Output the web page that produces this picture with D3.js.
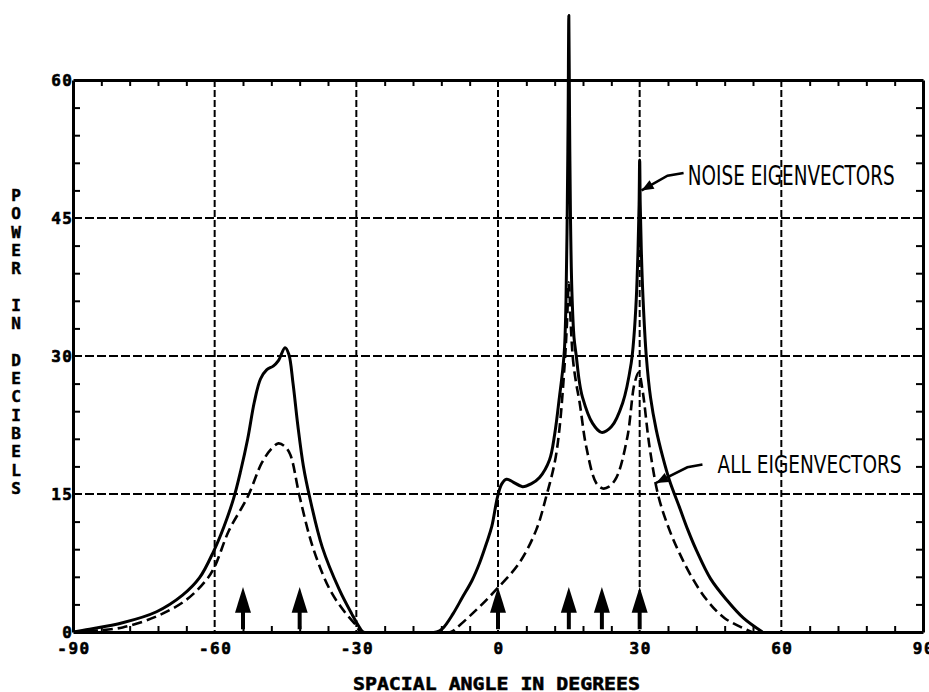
<!doctype HTML>
<html>
<head>
    <style>
        body { margin: 0; background: #fff; }
        text { font-family: "DejaVu Sans Mono", monospace; font-weight: bold; fill: #000; }
        .note { font-family: "DejaVu Sans Condensed", "Liberation Sans Narrow", "DejaVu Sans", sans-serif; font-weight: normal; }
    </style>
    <script src="https://d3js.org/d3.v7.min.js"></script>
</head>
<body>
<script>
    // tick labels
    var xTicks = [-90, -60, -30, 0, 30, 60, 90];
    var yTicks = [0, 15, 30, 45, 60];
    // true source directions (arrows)
    var sources = [-54, -42, 0, 15, 22, 30];

    // solid curve: noise eigenvectors, [angle, dB]
    var noiseEig = [
        [-90, 0], [-86.5, 0.3], [-79.5, 1], [-72.3, 2.2], [-66.8, 4], [-63.2, 5.9], [-60.2, 8.8],
        [-58, 11.5], [-56, 14.5], [-54.5, 17.5], [-53, 21], [-51.6, 25], [-50.3, 27.5],
        [-49, 28.5], [-47.6, 28.9], [-46.5, 29.5], [-45.1, 30.9], [-44.3, 30.2], [-43.4, 27],
        [-42.4, 22.5], [-41.2, 18], [-39.9, 14.7], [-37.2, 9.2], [-33.6, 4.6], [-31, 2],
        [-29.2, 0.4], [-28.5, 0], [-13, 0], [-11.7, 0.4], [-9.5, 2], [-7.5, 3.8], [-5.5, 5.6],
        [-3.9, 7.5], [-2.4, 9.7], [-1.3, 11.5], [-0.1, 14.7], [0.8, 16.1], [1.8, 16.6], [3.2, 16.3],
        [5.2, 15.8], [7, 16.1], [8.8, 16.8], [10.9, 18.7], [12, 21.5], [13, 25.5], [13.7, 28.5],
        [14.1, 31], [14.4, 36], [14.65, 45], [14.85, 56], [15, 67], [15.15, 56], [15.35, 45],
        [15.65, 37], [16.1, 32], [16.6, 29.9], [17.2, 27.3], [17.9, 25.5], [20, 22.7], [21.9, 21.7],
        [24, 22.3], [26.4, 24.9], [28.2, 29.2], [28.8, 32.2], [29.3, 36.4], [29.65, 41.5],
        [29.88, 46.5], [30, 51.3], [30.12, 46.5], [30.35, 41.5], [30.7, 36.4], [31.4, 30],
        [32.3, 25.5], [33.5, 22], [34.9, 19], [36.3, 16.5], [38.4, 13.6], [40.2, 11.1], [42, 8.9],
        [45, 5.8], [48.4, 3.5], [52, 1.5], [56, 0]
    ];

    // dashed curve: all eigenvectors, [angle, dB]
    var allEig = [
        [-90, 0], [-85, 0.15], [-79.5, 0.5], [-72.3, 1.7], [-66, 3.5], [-61.7, 5.7], [-60, 7.1],
        [-57, 11], [-53, 14.7], [-50, 18.4], [-48, 19.9], [-46.5, 20.5], [-45.2, 20.2], [-44, 19.3],
        [-42, 14.7], [-39.2, 9.2], [-35.6, 4.6], [-32.5, 2.2], [-30, 0.7], [-29, 0], [-10, 0],
        [-8.9, 0.4], [-4.6, 2.4], [-0.4, 4.6], [4.5, 7.5], [8.1, 11.1], [10.2, 14.7], [12, 18.4],
        [13, 22], [14.1, 29], [14.6, 33.5], [15, 38], [15.4, 33.5], [15.9, 29.5], [16.5, 27.2],
        [17.3, 24.9], [18.7, 20.1], [20.8, 16.2], [22.2, 15.6], [23.5, 15.8], [25.1, 16.8],
        [27.4, 21.2], [28.9, 27], [29.8, 28.2], [30.6, 26.3], [32.1, 20.1], [34, 14.7],
        [36.3, 11.1], [38.4, 8.6], [41, 6], [44.2, 3.5], [48, 1.5], [53.7, 0]
    ];

    var canvasWidth = 929;
    var canvasHeight = 692;

    var svg = d3.select("body").append("svg")
        .attr("width", canvasWidth)
        .attr("height", canvasHeight);

    var x = d3.scaleLinear().domain([-90, 90]).range([73, 923]);
    var y = d3.scaleLinear().domain([0, 60]).range([632, 80]);

    // keep curves above the zero line
    svg.append("clipPath").attr("id", "above0")
        .append("rect")
        .attr("x", x(-90)).attr("y", 0)
        .attr("width", x(90) - x(-90)).attr("height", y(0));

    // dashed grid
    svg.selectAll(".vgrid")
        .data(xTicks.slice(1, -1))
        .enter().append("line")
        .attr("x1", d => x(d)).attr("x2", d => x(d))
        .attr("y1", y(60)).attr("y2", y(0))
        .attr("stroke", "#000").attr("stroke-width", 2)
        .attr("stroke-dasharray", "7,3");

    svg.selectAll(".hgrid")
        .data(yTicks.slice(1, -1))
        .enter().append("line")
        .attr("x1", x(-90)).attr("x2", x(90))
        .attr("y1", d => y(d)).attr("y2", d => y(d))
        .attr("stroke", "#000").attr("stroke-width", 2)
        .attr("stroke-dasharray", "9,3");

    // minor ticks on all four sides, pointing inward
    var minorX = d3.range(-84, 90, 6).filter(d => d % 30 !== 0);
    var minorY = d3.range(3, 60, 3).filter(d => d % 15 !== 0);

    function styleAxis(g) {
        g.select(".domain").attr("stroke-width", 3);
        g.selectAll(".tick line").attr("stroke-width", 2);
    }

    svg.append("g").attr("transform", "translate(0," + y(0) + ")")
        .call(d3.axisBottom(x).tickValues(minorX).tickSizeInner(-6).tickSizeOuter(0).tickFormat(""))
        .call(styleAxis);
    svg.append("g").attr("transform", "translate(0," + y(60) + ")")
        .call(d3.axisTop(x).tickValues(minorX).tickSizeInner(-6).tickSizeOuter(0).tickFormat(""))
        .call(styleAxis);
    svg.append("g").attr("transform", "translate(" + x(-90) + ",0)")
        .call(d3.axisLeft(y).tickValues(minorY).tickSizeInner(-7).tickSizeOuter(0).tickFormat(""))
        .call(styleAxis);
    svg.append("g").attr("transform", "translate(" + x(90) + ",0)")
        .call(d3.axisRight(y).tickValues(minorY).tickSizeInner(-7).tickSizeOuter(0).tickFormat(""))
        .call(styleAxis);

    // tick labels
    svg.selectAll(".xlab")
        .data(xTicks)
        .enter().append("text")
        .attr("x", d => x(d) + 1)
        .attr("y", 654)
        .attr("text-anchor", "middle")
        .attr("font-size", "16px")
        .attr("letter-spacing", "1.5px")
        .attr("stroke", "#000").attr("stroke-width", 0.6)
        .text(d => d);

    svg.selectAll(".ylab")
        .data(yTicks)
        .enter().append("text")
        .attr("x", 73.5)
        .attr("y", d => y(d) + 6)
        .attr("text-anchor", "end")
        .attr("font-size", "16px")
        .attr("letter-spacing", "1.5px")
        .attr("stroke", "#000").attr("stroke-width", 0.6)
        .text(d => d);

    // curves
    var line = d3.line()
        .x(d => x(d[0]))
        .y(d => y(d[1]))
        .curve(d3.curveCatmullRom.alpha(0.5));

    svg.append("path")
        .datum(allEig)
        .attr("d", line)
        .attr("clip-path", "url(#above0)")
        .attr("fill", "none")
        .attr("stroke", "#000")
        .attr("stroke-width", 2.6)
        .attr("stroke-dasharray", "10,5");

    svg.append("path")
        .datum(noiseEig)
        .attr("d", line)
        .attr("clip-path", "url(#above0)")
        .attr("fill", "none")
        .attr("stroke", "#000")
        .attr("stroke-width", 3)
        .attr("stroke-linejoin", "round");

    // source arrows
    var arrows = svg.selectAll(".src")
        .data(sources)
        .enter().append("g");
    arrows.append("line")
        .attr("x1", d => x(d)).attr("x2", d => x(d))
        .attr("y1", y(0.3)).attr("y2", y(2.6))
        .attr("stroke", "#000").attr("stroke-width", 4);
    arrows.append("path")
        .attr("d", d => "M" + x(d) + "," + y(4.9) +
            "L" + (x(d) + 8) + "," + y(2.1) +
            "L" + (x(d) - 8) + "," + y(2.1) + "Z")
        .attr("fill", "#000");

    // annotations
    function leader(pts) {
        var p = pts.map(d => [x(d[0]), y(d[1])]);
        svg.append("path")
            .attr("d", d3.line()(p))
            .attr("fill", "none").attr("stroke", "#000").attr("stroke-width", 2.5);
        var tip = p[p.length - 1], from = p[p.length - 2];
        var a = Math.atan2(tip[1] - from[1], tip[0] - from[0]);
        var len = 12, w = 5;
        var bx = tip[0] - len * Math.cos(a), by = tip[1] - len * Math.sin(a);
        svg.append("path")
            .attr("d", "M" + tip[0] + "," + tip[1] +
                "L" + (bx + w * Math.sin(a)) + "," + (by - w * Math.cos(a)) +
                "L" + (bx - w * Math.sin(a)) + "," + (by + w * Math.cos(a)) + "Z")
            .attr("fill", "#000");
    }

    leader([[39.3, 49.9], [35.9, 49.6], [30.4, 48]]);
    svg.append("text")
        .attr("class", "note")
        .attr("x", x(40.2))
        .attr("y", 185)
        .attr("font-size", "26px")
        .attr("textLength", 207)
        .attr("lengthAdjust", "spacingAndGlyphs")
        .text("NOISE EIGENVECTORS");

    leader([[43.3, 18.2], [40.1, 17.9], [33.5, 16.2]]);
    svg.append("text")
        .attr("class", "note")
        .attr("x", x(46.5))
        .attr("y", 473)
        .attr("font-size", "25px")
        .attr("textLength", 184)
        .attr("lengthAdjust", "spacingAndGlyphs")
        .text("ALL EIGENVECTORS");

    // axis titles
    svg.append("text")
        .attr("x", 353)
        .attr("y", 690)
        .attr("font-size", "17px")
        .attr("textLength", 287)
        .attr("lengthAdjust", "spacingAndGlyphs")
        .attr("stroke", "#000").attr("stroke-width", 0.5)
        .text("SPACIAL ANGLE IN DEGREES");

    var yTitle = "POWER IN DECIBELS".split("");
    svg.append("text")
        .attr("font-size", "16px")
        .attr("text-anchor", "middle")
        .attr("stroke", "#000").attr("stroke-width", 0.5)
        .selectAll("tspan")
        .data(yTitle)
        .enter().append("tspan")
        .attr("x", 16)
        .attr("y", (d, i) => 201 + i * 18.3)
        .text(d => d);
</script>
</body>
</html>
